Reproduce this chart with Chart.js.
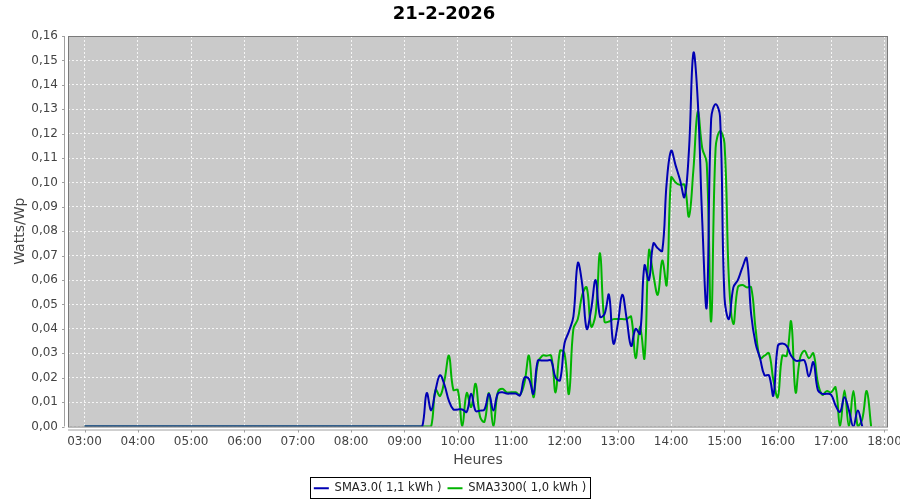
<!DOCTYPE html>
<html>
<head>
<meta charset="utf-8">
<script src="https://cdn.jsdelivr.net/npm/chart.js@4.4.1/dist/chart.umd.min.js"></script>
<style>
  body { margin: 0; background: #fff; }
</style>
</head>
<body>
<canvas id="chart" width="900" height="500"></canvas>
<script>
// --- DATA ---
const times = ['03:00',
  '09:00','09:05','09:10','09:15','09:20','09:25','09:30','09:35','09:40','09:45','09:50','09:55',
  '10:00','10:05','10:10','10:15','10:20','10:25','10:30','10:35','10:40','10:45','10:50','10:55',
  '11:00','11:05','11:10','11:15','11:20','11:25','11:30','11:35','11:40','11:45','11:50','11:55',
  '12:00','12:05','12:10','12:15','12:20','12:25','12:30','12:35','12:40','12:45','12:50','12:55',
  '13:00','13:05','13:10','13:15','13:20','13:25','13:30','13:35','13:40','13:45','13:50','13:55',
  '14:00','14:05','14:10','14:15','14:20','14:25','14:30','14:35','14:40','14:45','14:50','14:55',
  '15:00','15:05','15:10','15:15','15:20','15:25','15:30','15:35','15:40','15:45','15:50','15:55',
  '16:00','16:05','16:10','16:15','16:20','16:25','16:30','16:35','16:40','16:45','16:50','16:55',
  '17:00','17:05','17:10','17:15','17:20','17:25','17:30','17:35','17:40','17:45'];

const sma30 = [0,
  0, 0, 0, 0, 0, 0.0137, 0.0066, 0.015, 0.021, 0.017, 0.0105, 0.007,
  0.007, 0.007, 0.006, 0.0134, 0.0064, 0.0065, 0.007, 0.0134, 0.0066, 0.0135, 0.014, 0.0135,
  0.0135, 0.0135, 0.0128, 0.020, 0.0195, 0.0134, 0.027, 0.027, 0.027, 0.027, 0.020, 0.019,
  0.034, 0.039, 0.045, 0.067, 0.058, 0.040, 0.048, 0.060, 0.045, 0.046, 0.054, 0.034,
  0.042, 0.054, 0.044, 0.033, 0.040, 0.038, 0.066, 0.060, 0.075, 0.073, 0.072, 0.100,
  0.113, 0.107, 0.101, 0.094, 0.113, 0.153, 0.133, 0.084, 0.049, 0.126, 0.132, 0.127,
  0.053, 0.044, 0.057, 0.060, 0.065, 0.069, 0.046, 0.034, 0.028, 0.021, 0.021, 0.0127,
  0.033, 0.034, 0.033, 0.029, 0.027, 0.027, 0.027, 0.0205, 0.0264, 0.015, 0.0134, 0.0134,
  0.013, 0.0086, 0.006, 0.012, 0.0066, 0, 0.0066, 0, null, null];

const sma3300 = [0,
  0, 0, 0, 0, 0, 0, 0, 0.015, 0.0125, 0.019, 0.029, 0.015,
  0.015, 0, 0.0137, 0.008, 0.0175, 0.004, 0.002, 0.0137, 0, 0.014, 0.0155, 0.014,
  0.014, 0.014, 0.013, 0.018, 0.029, 0.012, 0.026, 0.029, 0.029, 0.029, 0.014, 0.031,
  0.030, 0.0134, 0.040, 0.044, 0.054, 0.057, 0.041, 0.046, 0.071, 0.043, 0.043, 0.044,
  0.044, 0.044, 0.044, 0.045, 0.028, 0.041, 0.028, 0.072, 0.062, 0.054, 0.068, 0.058,
  0.102, 0.100, 0.099, 0.099, 0.086, 0.105, 0.129, 0.114, 0.108, 0.043, 0.114, 0.121,
  0.116, 0.060, 0.042, 0.057, 0.058, 0.057, 0.057, 0.040, 0.028, 0.029, 0.030, 0.019,
  0.012, 0.029, 0.029, 0.043, 0.014, 0.028, 0.031, 0.028, 0.030, 0.018, 0.013, 0.0145,
  0.014, 0.016, 0, 0.0148, 0, 0.0145, 0, 0.003, 0.0145, 0];

const hourTicks = [3, 4, 5, 6, 7, 8, 9, 10, 11, 12, 13, 14, 15, 16, 17, 18];
const hourLabels = ['03:00','04:00','05:00','06:00','07:00','08:00','09:00','10:00',
  '11:00','12:00','13:00','14:00','15:00','16:00','17:00','18:00'];
const yTicks = [0, 0.01, 0.02, 0.03, 0.04, 0.05, 0.06, 0.07, 0.08,
  0.09, 0.10, 0.11, 0.12, 0.13, 0.14, 0.15, 0.16];
const yLabels = ['0,00','0,01','0,02','0,03','0,04','0,05','0,06','0,07','0,08',
  '0,09','0,10','0,11','0,12','0,13','0,14','0,15','0,16'];

const toHours = t => { const [h, m] = t.split(':').map(Number); return h + m / 60; };
const FONT = 'DejaVu Sans';

// plot background, offset axes, legend frame (JFreeChart look)
const plotFrame = {
  id: 'plotFrame',
  afterLayout(chart) {
    const lg = chart.legend;
    lg.left = 0; lg.right = chart.width; lg.width = chart.width;
    lg.top += 4; lg.bottom += 4;
  },
  beforeDraw(chart) {
    const { ctx, chartArea: a } = chart;
    ctx.save();
    ctx.fillStyle = '#cacaca';
    ctx.fillRect(a.left, a.top, a.right - a.left, a.bottom - a.top);
    ctx.restore();
  },
  afterDatasetsDraw(chart) {
    const { ctx, chartArea: a, scales } = chart;
    ctx.save();
    ctx.lineWidth = 1;
    ctx.strokeStyle = '#7a7a7a';
    ctx.strokeRect(a.left + 0.5, a.top + 0.5, a.right - a.left - 1, a.bottom - a.top);
    // offset axis lines
    ctx.strokeStyle = '#a0a0a0';
    const ax = a.left - 3.5, ay = a.bottom + 3.5;
    ctx.beginPath();
    ctx.moveTo(ax, a.top); ctx.lineTo(ax, a.bottom);
    yTicks.forEach(v => {
      const py = Math.round(scales.y.getPixelForValue(v)) + 0.5;
      ctx.moveTo(ax - 2.5, py); ctx.lineTo(ax, py);
    });
    ctx.moveTo(a.left, ay); ctx.lineTo(a.right, ay);
    hourTicks.forEach(v => {
      const px = Math.round(scales.x.getPixelForValue(v)) + 0.5;
      ctx.moveTo(px, ay); ctx.lineTo(px, ay + 2.5);
    });
    ctx.stroke();
    ctx.restore();
  },
  afterDraw(chart) {
    const hb = chart.legend.legendHitBoxes;
    if (!hb || !hb.length) return;
    const first = hb[0], last = hb[hb.length - 1];
    const l = Math.round(first.left) - 3.5;
    const r = Math.round(last.left + last.width) + 4.5;
    const cy = first.top + first.height / 2;
    const ctx = chart.ctx;
    ctx.save();
    ctx.strokeStyle = '#000';
    ctx.lineWidth = 1;
    ctx.strokeRect(l, Math.round(cy - 11) + 0.5, r - l, 21);
    ctx.restore();
  }
};

const ctx = document.getElementById('chart').getContext('2d');

new Chart(ctx, {
  type: 'line',
  data: {
    datasets: [
      {
        label: 'SMA3.0( 1,1 kWh )',
        data: times.map((t, i) => ({ x: toHours(t), y: sma30[i] })),
        borderColor: '#0000b4',
        backgroundColor: '#0000b4',
        borderWidth: 2,
        pointRadius: 0,
        pointBorderWidth: 2,
        tension: 0.4,
        fill: false
      },
      {
        label: 'SMA3300( 1,0 kWh )',
        data: times.map((t, i) => ({ x: toHours(t), y: sma3300[i] })),
        borderColor: '#00b400',
        backgroundColor: '#00b400',
        borderWidth: 2,
        pointRadius: 0,
        pointBorderWidth: 2,
        tension: 0.4,
        fill: false
      }
    ]
  },
  options: {
    responsive: false,
    animation: false,
    layout: { padding: { right: 12 } },
    plugins: {
      title: {
        display: true,
        text: '21-2-2026',
        color: '#000',
        font: { family: FONT, size: 18, weight: 'bold' },
        padding: { top: 4, bottom: 10.4 }
      },
      legend: {
        position: 'bottom',
        labels: {
          usePointStyle: true,
          pointStyle: 'line',
          pointStyleWidth: 15,
          padding: 6,
          color: '#222',
          font: { family: FONT, size: 11.5 }
        }
      },
      tooltip: { enabled: false }
    },
    scales: {
      x: {
        type: 'linear',
        min: 2.6906,
        max: 18.066,
        afterBuildTicks: s => { s.ticks = hourTicks.map(v => ({ value: v })); },
        afterFit: s => { s.height = 46; s.paddingLeft = 0; s.paddingRight = 0; },
        ticks: {
          callback: (v, i) => hourLabels[i],
          color: '#444',
          font: { family: FONT, size: 12 },
          padding: 8,
          maxRotation: 0,
          autoSkip: false
        },
        grid: { color: 'rgba(255,255,255,0.8)', drawTicks: false },
        border: { display: false, dash: [2, 2] },
        title: {
          display: true,
          text: 'Heures',
          color: '#444',
          font: { family: FONT, size: 14 },
          padding: { top: 0, bottom: 3.6 }
        }
      },
      y: {
        min: 0,
        max: 0.16,
        afterBuildTicks: s => { s.ticks = yTicks.map(v => ({ value: v })); },
        afterFit: s => { s.width = 68; },
        ticks: {
          callback: (v, i) => yLabels[i],
          color: '#444',
          font: { family: FONT, size: 12 },
          padding: 10
        },
        grid: { color: 'rgba(255,255,255,0.8)', drawTicks: false },
        border: { display: false, dash: [2, 2] },
        title: {
          display: true,
          text: 'Watts/Wp',
          color: '#444',
          font: { family: FONT, size: 14 },
          padding: { top: 11.6, bottom: 0 }
        }
      }
    }
  },
  plugins: [plotFrame]
});
</script>
</body>
</html>
